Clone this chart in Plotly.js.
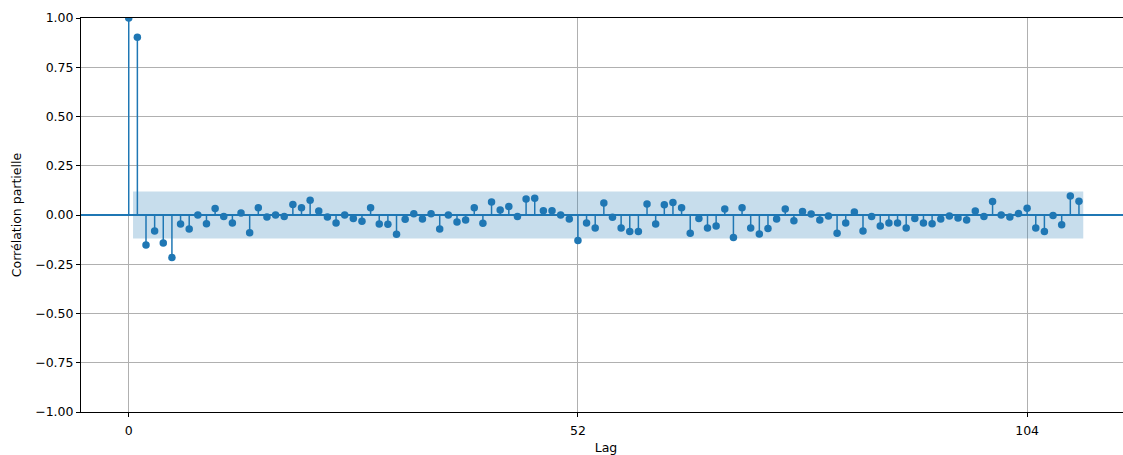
<!DOCTYPE html>
<html>
<head>
<meta charset="utf-8">
<script src="https://cdn.plot.ly/plotly-3.0.1.min.js"></script>
<style>
html, body { margin: 0; padding: 0; overflow: hidden; background: #fff; }
#chart { width: 1131px; height: 455px; }
</style>
</head>
<body>
<div id="chart"></div>
<script>
// Partial autocorrelation values, lags 0..110
const lags = Array.from({length: 111}, (_, i) => i);
const pacf = [
  1.000, 0.902, -0.152, -0.081, -0.142, -0.216, -0.046, -0.071, 0.000, -0.044,
  0.033, -0.007, -0.040, 0.010, -0.090, 0.037, -0.010, 0.000, -0.007, 0.053,
  0.037, 0.075, 0.020, -0.010, -0.040, 0.000, -0.018, -0.032, 0.037, -0.046,
  -0.047, -0.098, -0.022, 0.006, -0.020, 0.006, -0.071, 0.000, -0.035, -0.025,
  0.037, -0.042, 0.066, 0.025, 0.043, -0.007, 0.081, 0.085, 0.022, 0.022,
  0.000, -0.020, -0.130, -0.040, -0.066, 0.061, -0.011, -0.066, -0.084, -0.084,
  0.056, -0.046, 0.052, 0.063, 0.037, -0.093, -0.018, -0.066, -0.056, 0.030,
  -0.114, 0.037, -0.066, -0.096, -0.069, -0.020, 0.030, -0.029, 0.018, 0.005,
  -0.025, -0.005, -0.093, -0.040, 0.015, -0.081, -0.007, -0.056, -0.040, -0.040,
  -0.066, -0.018, -0.040, -0.044, -0.020, -0.005, -0.015, -0.025, 0.020, -0.007,
  0.069, 0.000, -0.010, 0.007, 0.034, -0.066, -0.084, -0.002, -0.050, 0.096,
  0.070
];
const confLimit = 0.119;            // 95% confidence half-width
const xTickVals = [0, 52, 104];
const yTickVals = [-1, -0.75, -0.5, -0.25, 0, 0.25, 0.5, 0.75, 1];
const xLabel = "Lag";
const yLabel = "Corrélation partielle";

const blue = '#1f77b4';

// stems
const sx = [], sy = [];
lags.forEach((l, i) => { sx.push(l, l, null); sy.push(0, pacf[i], null); });

// confidence band from lag 1 - 0.5 to last lag + 0.5
const bandX = [lags[1] - 0.5, lags[lags.length - 1] + 0.5];

const traces = [
  {
    x: sx, y: sy, type: 'scatter', mode: 'lines',
    line: {color: blue, width: 1.5}, hoverinfo: 'skip', showlegend: false
  },
  {
    x: lags, y: pacf, type: 'scatter', mode: 'markers',
    marker: {color: blue, size: 7.5}, showlegend: false
  },
  {
    x: bandX, y: [-confLimit, -confLimit], type: 'scatter', mode: 'lines',
    line: {width: 0}, showlegend: false, hoverinfo: 'skip'
  },
  {
    x: bandX, y: [confLimit, confLimit], type: 'scatter', mode: 'lines',
    line: {width: 0}, fill: 'tonexty', fillcolor: 'rgba(31,119,180,0.25)',
    showlegend: false, hoverinfo: 'skip'
  }
];

const font = {family: 'DejaVu Sans, sans-serif', size: 12.5, color: '#000'};

const layout = {
  width: 1131, height: 455,
  margin: {l: 81, r: 0, t: 18, b: 43, pad: 0},
  paper_bgcolor: '#fff', plot_bgcolor: '#fff',
  font: font,
  showlegend: false,
  xaxis: {
    range: [-5.525, 116.025],
    tickvals: xTickVals, ticktext: xTickVals.map(String),
    ticks: 'outside', ticklen: 4, tickwidth: 1, tickcolor: '#000',
    ticklabelstandoff: 3,
    showgrid: true, gridcolor: '#b0b0b0', gridwidth: 1,
    zeroline: false,
    showline: true, linecolor: '#000', linewidth: 1, mirror: true,
    title: {text: xLabel, font: font, standoff: 8},
    tickfont: font
  },
  yaxis: {
    range: [-1, 1],
    tickvals: yTickVals, tickformat: '.2f',
    ticks: 'outside', ticklen: 4, tickwidth: 1, tickcolor: '#000',
    showgrid: true, gridcolor: '#b0b0b0', gridwidth: 1,
    zeroline: true, zerolinecolor: blue, zerolinewidth: 1.5,
    showline: true, linecolor: '#000', linewidth: 1, mirror: false,
    title: {text: yLabel, font: font, standoff: 10},
    tickfont: font
  }
};

Plotly.newPlot('chart', traces, layout, {displayModeBar: false, staticPlot: true});
</script>
</body>
</html>
